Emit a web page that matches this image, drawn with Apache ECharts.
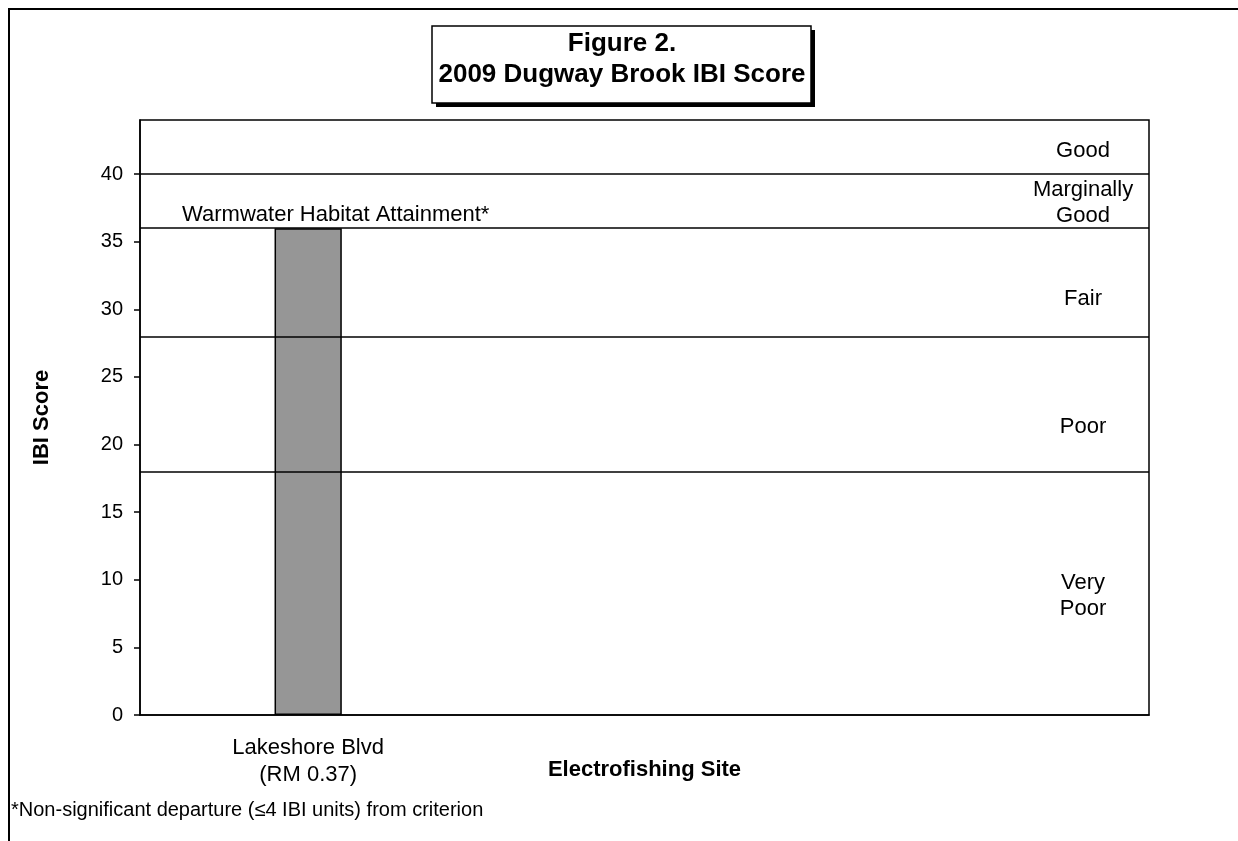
<!DOCTYPE html>
<html>
<head>
<meta charset="utf-8">
<script src="https://cdn.jsdelivr.net/npm/echarts@6/dist/echarts.min.js"></script>
<style>
html,body{margin:0;padding:0;background:#fff;}
#chart{width:1238px;height:841px;}
</style>
</head>
<body>
<div id="chart"></div>
<script>
const categories = ['Lakeshore Blvd\n(RM 0.37)', '', ''];
const ibiScores = [36, null, null];
const thresholds = [40, 36, 28, 18];
const yTicks = [0, 5, 10, 15, 20, 25, 30, 35, 40];
const zoneNames = ['Good', 'Marginally\nGood', 'Fair', 'Poor', 'Very\nPoor'];
const zoneLabelScores = [41.7, 37.9, 30.8, 21.3, 8.8];
const attainmentText = 'Warmwater Habitat Attainment*';
const attainmentScore = 37.0;
const titleLines = ['Figure 2.', '2009 Dugway Brook IBI Score'];
const footnote = '*Non-significant departure (\u22644 IBI units) from criterion';

const FONT = '"Liberation Sans", Arial, sans-serif';
const chart = echarts.init(document.getElementById('chart'), null, {renderer: 'canvas'});

const zoneData = zoneNames.map((n, i) => ({name: n, value: [0.9346, zoneLabelScores[i]]}));

chart.setOption({
  animation: false,
  backgroundColor: '#fff',
  grid: {left: 140, top: 120, width: 1009, height: 595, show: true, borderColor: '#000', borderWidth: 1.5, containLabel: false},
  xAxis: [{
    type: 'category', data: categories,
    axisLine: {lineStyle: {color: '#000', width: 1.5}},
    axisTick: {show: false},
    axisLabel: {color: '#000', fontFamily: FONT, fontSize: 22, lineHeight: 27, margin: 19, interval: 0},
    name: 'Electrofishing Site', nameLocation: 'middle', nameGap: 44, nameMoveOverlap: false,
    nameTextStyle: {color: '#000', fontFamily: FONT, fontSize: 22, fontWeight: 'bold'}
  }, {
    type: 'value', min: 0, max: 1, show: false
  }],
  yAxis: {
    type: 'value', min: 0, max: 44, interval: 5,
    axisLine: {show: true, lineStyle: {color: '#000', width: 1.5}},
    axisTick: {show: true, length: 6, lineStyle: {color: '#000', width: 1.5}, customValues: yTicks},
    axisLabel: {color: '#000', fontFamily: FONT, fontSize: 20, margin: 17, customValues: yTicks},
    splitLine: {show: false},
    name: 'IBI Score', nameLocation: 'middle', nameGap: 87, nameRotate: 90, nameMoveOverlap: false,
    nameTextStyle: {color: '#000', fontFamily: FONT, fontSize: 22, fontWeight: 'bold'}
  },
  series: [{
    type: 'bar', data: ibiScores, barWidth: '20%', silent: true,
    itemStyle: {color: '#969696', borderColor: '#000', borderWidth: 1.5},
    markLine: {
      silent: true, symbol: 'none', label: {show: false},
      lineStyle: {color: '#000', width: 1.5, type: 'solid'},
      data: thresholds.map(t => ({yAxis: t}))
    }
  }, {
    type: 'scatter', xAxisIndex: 1, yAxisIndex: 0, symbolSize: 0, silent: true,
    itemStyle: {opacity: 1, color: '#000'},
    data: zoneData.concat([{name: attainmentText, value: [0.194, attainmentScore]}]),
    label: {show: true, position: 'inside', formatter: p => p.name, color: '#000',
      fontFamily: FONT, fontSize: 22, lineHeight: 26, align: 'center', verticalAlign: 'middle'}
  }],
  graphic: [
    {type: 'rect', shape: {x: 9, y: 9, width: 1400, height: 1000}, style: {fill: 'none', stroke: '#000', lineWidth: 2}, silent: true},
    {type: 'rect', shape: {x: 436, y: 30, width: 379, height: 77}, style: {fill: '#000'}, silent: true, z: 10},
    {type: 'rect', shape: {x: 432, y: 26, width: 379, height: 77}, style: {fill: '#fff', stroke: '#000', lineWidth: 1.5}, silent: true, z: 11},
    {type: 'text', x: 622, y: 44, style: {text: titleLines[0], font: 'bold 26px ' + FONT, fill: '#000', align: 'center', verticalAlign: 'middle'}, silent: true, z: 12},
    {type: 'text', x: 622, y: 75, style: {text: titleLines[1], font: 'bold 26px ' + FONT, fill: '#000', align: 'center', verticalAlign: 'middle'}, silent: true, z: 12},
    {type: 'text', x: 11, y: 810, style: {text: footnote, font: '20px ' + FONT, fill: '#000', align: 'left', verticalAlign: 'middle'}, silent: true}
  ]
});
</script>
</body>
</html>
